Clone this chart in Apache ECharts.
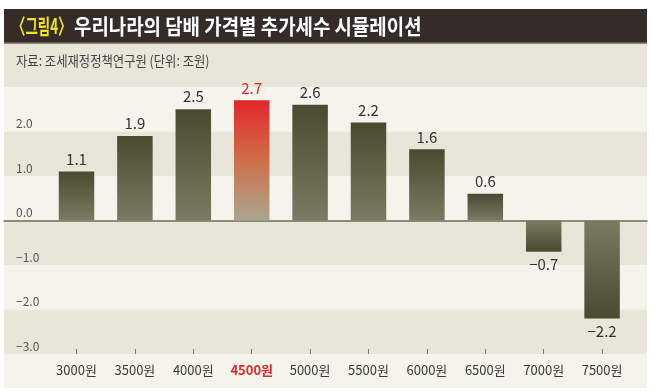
<!DOCTYPE html>
<html><head><meta charset="utf-8">
<script src="https://cdn.jsdelivr.net/npm/echarts@6/dist/echarts.min.js"></script>
<style>html,body{margin:0;padding:0;background:#fff}#c{width:654px;height:391px}</style>
</head><body><div id="c"></div>
<script>
const titleTag = '〈그림4〉';
const titleText = '우리나라의 담배 가격별 추가세수 시뮬레이션';
const sourceText = '자료: 조세재정정책연구원 (단위: 조원)';
const categories = ['3000원','3500원','4000원','4500원','5000원','5500원','6000원','6500원','7000원','7500원'];
const values = [1.1, 1.9, 2.5, 2.7, 2.6, 2.2, 1.6, 0.6, -0.7, -2.2];
const highlightIndex = 3;
const yMin = -3, yMax = 3, yStep = 1;

const FONT = '"Noto Sans CJK KR", "Noto Sans", sans-serif';
const fmt = v => (v < 0 ? '\u2212' : '') + Math.abs(v).toFixed(1);

function grad(stops){
  return new echarts.graphic.LinearGradient(0,0,0,1, stops.map((c,i)=>({offset:i/(stops.length-1), color:c})));
}
const posGrad = grad(['#4a4a31','#7b7a62']);
const negGrad = grad(['#7b7a62','#4a4a31']);
const redGrad = grad(['#e2262a','#cf6f4a','#aaa68f']);

const barData = values.map((v,i)=>({
  value: v,
  itemStyle: {color: i===highlightIndex ? redGrad : (v>=0 ? posGrad : negGrad)},
  label: {
    position: v>=0 ? 'top' : 'bottom',
    color: i===highlightIndex ? '#e2262a' : '#333'
  }
}));

const chart = echarts.init(document.getElementById('c'), null, {renderer:'canvas'});
chart.setOption({
  animation: false,
  backgroundColor: '#ffffff',
  textStyle: {fontFamily: FONT},
  graphic: [
    {type:'rect', z:-100, silent:true, shape:{x:4,y:43,width:643,height:345}, style:{fill:'#f4f3ec'}},
    {type:'rect', z:-90, silent:true, shape:{x:4,y:9,width:643,height:34}, style:{fill:'#352b29'}},
    {type:'rect', z:-90, silent:true, shape:{x:4,y:42.5,width:643,height:1.5}, style:{fill:'#8d867a'}},
    {type:'rect', z:-90, silent:true, shape:{x:4,y:44,width:643,height:43}, style:{fill:'#e8e6d8'}},
    {type:'text', z:10, x:12, y:26, scaleX:0.64, style:{
      text: titleTag, fill:'#f2e41e', font:'bold 21px ' + FONT, textVerticalAlign:'middle'
    }},
    {type:'text', z:10, x:74, y:26, scaleX:0.9, style:{
      text: titleText, fill:'#ffffff', font:'bold 21px ' + FONT, textVerticalAlign:'middle'
    }},
    {type:'text', z:10, x:16, y:61, scaleX:0.88, style:{
      text: sourceText, fill:'#444', font:'14px ' + FONT, textVerticalAlign:'middle'
    }}
  ],
  grid: [
    {left:4, width:643, top:87, height:267},
    {left:47.3, width:584, top:87, height:267}
  ],
  xAxis: [
    {gridIndex:0, type:'value', min:0, max:1, axisLabel:{show:false}, axisTick:{show:false}, splitLine:{show:false},
     axisLine:{show:true, onZero:true, lineStyle:{color:'#6e6d5c', width:1.5}}},
    {gridIndex:1, type:'category', data:categories, boundaryGap:true,
     axisLine:{show:false, onZero:false},
     axisTick:{show:true, inside:true, length:5, interval:0, alignWithLabel:true, lineStyle:{color:'#777'}},
     axisLabel:{margin:10, interval:0, fontSize:13, color:'#3a3a3a', fontFamily:FONT,
       formatter:(v,i)=> i===highlightIndex ? '{r|'+v+'}' : v,
       rich:{r:{color:'#e2262a', fontWeight:'bold', fontSize:13, fontFamily:FONT}}}}
  ],
  yAxis: [
    {gridIndex:0, type:'value', min:yMin, max:yMax, interval:yStep,
     axisLine:{show:false}, axisTick:{show:false}, splitLine:{show:false},
     splitArea:{show:true, areaStyle:{color:['#e8e6d8','#f4f3ec']}},
     axisLabel:{inside:true, margin:12, fontSize:12, color:'#555', fontFamily:FONT,
       verticalAlign:'bottom', padding:[0,0,2,0],
       formatter:v=> v===yMax ? '' : fmt(v)}},
    {gridIndex:1, type:'value', min:yMin, max:yMax, interval:yStep, show:false}
  ],
  series: [{
    type:'bar', xAxisIndex:1, yAxisIndex:1, barWidth:35.5, data:barData,
    label:{show:true, fontSize:15, distance:5, fontFamily:FONT, formatter:p=>fmt(p.value)}
  }]
});
</script></body></html>
